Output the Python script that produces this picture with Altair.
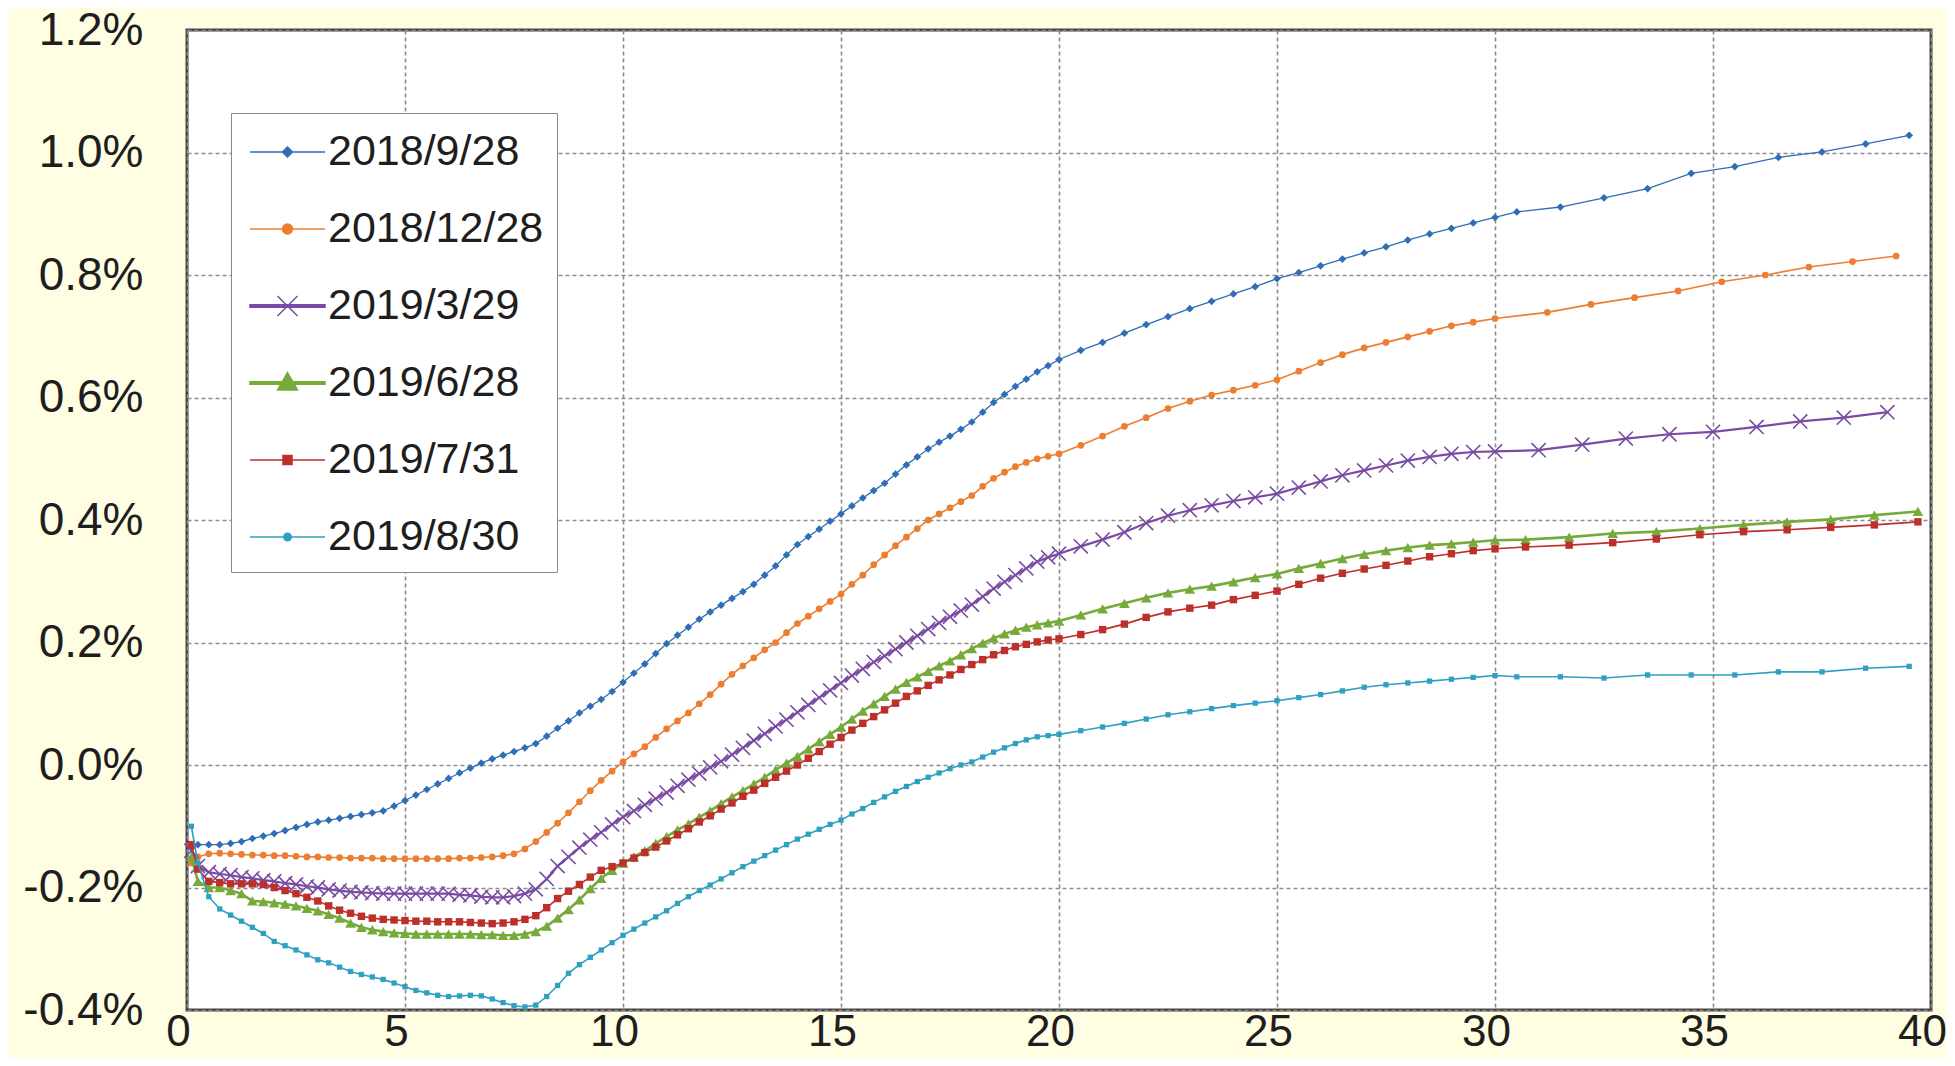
import altair as alt
import pandas as pd

SERIES = ["2018/9/28", "2018/12/28", "2019/3/29", "2019/6/28", "2019/7/31", "2019/8/30"]
COLORS = ["#2f6db5", "#ed7d31", "#7a4ba3", "#76ab3c", "#bd2f2a", "#2ea0c0"]

# maturities (years) shared by all series up to 30y
X_FRONT = [
    0.1, 0.25, 0.5, 0.75, 1.0, 1.25, 1.5, 1.75, 2.0, 2.25, 2.5, 2.75, 3.0, 3.25, 3.5, 3.75, 4.0, 4.25, 4.5, 4.75, 5.0,
    5.25, 5.5, 5.75, 6.0, 6.25, 6.5, 6.75, 7.0, 7.25, 7.5, 7.75, 8.0, 8.25, 8.5, 8.75, 9.0, 9.25, 9.5, 9.75, 10.0,
    10.25, 10.5, 10.75, 11.0, 11.25, 11.5, 11.75, 12.0, 12.25, 12.5, 12.75, 13.0, 13.25, 13.5, 13.75, 14.0, 14.25, 14.5, 14.75, 15.0,
    15.25, 15.5, 15.75, 16.0, 16.25, 16.5, 16.75, 17.0, 17.25, 17.5, 17.75, 18.0, 18.25, 18.5, 18.75, 19.0, 19.25, 19.5, 19.75, 20.0,
    20.5, 21.0, 21.5, 22.0, 22.5, 23.0, 23.5, 24.0, 24.5, 25.0, 25.5, 26.0, 26.5, 27.0, 27.5, 28.0, 28.5, 29.0, 29.5, 30.0,
]

# yields (%) for each series at X_FRONT
Y_0928 = [
    -0.135, -0.13, -0.13, -0.13, -0.128, -0.125, -0.12, -0.116, -0.112, -0.107, -0.102, -0.097, -0.093, -0.09, -0.087, -0.084, -0.081, -0.078, -0.075, -0.067, -0.058,
    -0.049, -0.04, -0.031, -0.022, -0.013, -0.005, 0.003, 0.01, 0.016, 0.022, 0.028, 0.035, 0.047, 0.06, 0.072, 0.085, 0.096, 0.107, 0.12, 0.135,
    0.15, 0.165, 0.182, 0.198, 0.212, 0.225, 0.238, 0.25, 0.261, 0.272, 0.283, 0.295, 0.31, 0.325, 0.343, 0.36, 0.373, 0.385, 0.398, 0.41,
    0.423, 0.436, 0.448, 0.46, 0.475, 0.49, 0.503, 0.516, 0.527, 0.537, 0.548, 0.56, 0.576, 0.592, 0.605, 0.618, 0.63, 0.642, 0.652, 0.662,
    0.677, 0.69, 0.705, 0.719, 0.732, 0.745, 0.757, 0.769, 0.781, 0.794, 0.804, 0.815, 0.826, 0.836, 0.846, 0.857, 0.867, 0.876, 0.885, 0.894,
]
Y_1228 = [
    -0.16, -0.15, -0.145, -0.144, -0.145, -0.146, -0.147, -0.147, -0.148, -0.148, -0.149, -0.15, -0.15, -0.151, -0.151, -0.152, -0.152, -0.152, -0.153, -0.153, -0.153,
    -0.153, -0.153, -0.153, -0.153, -0.152, -0.152, -0.151, -0.15, -0.148, -0.145, -0.137, -0.125, -0.11, -0.095, -0.078, -0.06, -0.042, -0.025, -0.01, 0.005,
    0.018, 0.03, 0.045, 0.059, 0.072, 0.085, 0.1, 0.115, 0.132, 0.148, 0.162, 0.175, 0.188, 0.2, 0.216, 0.231, 0.243, 0.255, 0.267, 0.279,
    0.295, 0.31, 0.327, 0.343, 0.358, 0.372, 0.386, 0.4, 0.41, 0.42, 0.43, 0.44, 0.455, 0.468, 0.478, 0.487, 0.494, 0.5, 0.504, 0.508,
    0.522, 0.537, 0.553, 0.567, 0.582, 0.594, 0.604, 0.612, 0.62, 0.629, 0.643, 0.657, 0.67, 0.681, 0.69, 0.699, 0.708, 0.717, 0.723, 0.729,
]
Y_0329 = [
    -0.14, -0.165, -0.175, -0.178, -0.18, -0.183, -0.185, -0.188, -0.19, -0.193, -0.195, -0.198, -0.2, -0.203, -0.205, -0.207, -0.208, -0.209, -0.21, -0.21, -0.21,
    -0.21, -0.21, -0.21, -0.21, -0.212, -0.213, -0.215, -0.216, -0.216, -0.214, -0.21, -0.203, -0.186, -0.165, -0.15, -0.135, -0.122, -0.11, -0.097, -0.085,
    -0.075, -0.065, -0.055, -0.045, -0.034, -0.024, -0.014, -0.004, 0.006, 0.017, 0.028, 0.04, 0.051, 0.063, 0.074, 0.086, 0.098, 0.11, 0.122, 0.134,
    0.146, 0.157, 0.168, 0.178, 0.189, 0.2, 0.211, 0.222, 0.232, 0.242, 0.252, 0.262, 0.275, 0.288, 0.299, 0.31, 0.321, 0.332, 0.339, 0.345,
    0.357, 0.368, 0.38, 0.395, 0.407, 0.416, 0.424, 0.431, 0.437, 0.443, 0.453, 0.463, 0.473, 0.481, 0.489, 0.497, 0.503, 0.508, 0.511, 0.512,
]
Y_0628 = [
    -0.15, -0.19, -0.2, -0.2, -0.205, -0.21, -0.222, -0.223, -0.225, -0.227, -0.23, -0.234, -0.238, -0.244, -0.25, -0.258, -0.265, -0.269, -0.272, -0.274, -0.275,
    -0.276, -0.276, -0.276, -0.276, -0.276, -0.276, -0.277, -0.277, -0.278, -0.278, -0.276, -0.272, -0.263, -0.25, -0.236, -0.22, -0.202, -0.185, -0.172, -0.16,
    -0.15, -0.14, -0.128, -0.117, -0.106, -0.096, -0.085, -0.075, -0.063, -0.052, -0.042, -0.031, -0.02, -0.008, 0.003, 0.014, 0.026, 0.038, 0.05, 0.062,
    0.075, 0.088, 0.1, 0.112, 0.124, 0.135, 0.144, 0.153, 0.162, 0.17, 0.18, 0.19, 0.199, 0.207, 0.214, 0.22, 0.225, 0.229, 0.232, 0.235,
    0.245, 0.255, 0.264, 0.273, 0.281, 0.287, 0.292, 0.299, 0.306, 0.312, 0.321, 0.329, 0.337, 0.344, 0.35, 0.355, 0.359, 0.361, 0.364, 0.367,
]
Y_0731 = [
    -0.13, -0.17, -0.19, -0.192, -0.194, -0.194, -0.194, -0.195, -0.2, -0.205, -0.21, -0.216, -0.222, -0.23, -0.237, -0.242, -0.247, -0.25, -0.252, -0.253, -0.254,
    -0.255, -0.255, -0.256, -0.256, -0.256, -0.257, -0.258, -0.259, -0.258, -0.256, -0.252, -0.246, -0.233, -0.218, -0.206, -0.195, -0.183, -0.172, -0.166, -0.16,
    -0.152, -0.143, -0.134, -0.124, -0.114, -0.104, -0.093, -0.083, -0.072, -0.062, -0.051, -0.041, -0.03, -0.02, -0.01, 0.0, 0.011, 0.022, 0.034, 0.045,
    0.057, 0.068, 0.079, 0.09, 0.101, 0.112, 0.121, 0.13, 0.139, 0.147, 0.156, 0.164, 0.172, 0.18, 0.187, 0.193, 0.197, 0.201, 0.204, 0.206,
    0.213, 0.221, 0.23, 0.241, 0.25, 0.256, 0.261, 0.27, 0.277, 0.284, 0.295, 0.305, 0.313, 0.32, 0.326, 0.333, 0.34, 0.345, 0.35, 0.353,
]
Y_0830 = [
    -0.1, -0.16, -0.215, -0.235, -0.245, -0.255, -0.265, -0.275, -0.288, -0.295, -0.302, -0.31, -0.318, -0.323, -0.33, -0.337, -0.342, -0.346, -0.35, -0.356, -0.362,
    -0.368, -0.372, -0.376, -0.378, -0.377, -0.376, -0.377, -0.382, -0.388, -0.393, -0.395, -0.392, -0.378, -0.36, -0.34, -0.326, -0.314, -0.302, -0.29, -0.278,
    -0.268, -0.258, -0.248, -0.238, -0.226, -0.215, -0.205, -0.196, -0.186, -0.176, -0.166, -0.157, -0.148, -0.139, -0.13, -0.121, -0.113, -0.105, -0.097, -0.09,
    -0.08, -0.071, -0.061, -0.052, -0.043, -0.035, -0.027, -0.02, -0.013, -0.006, 0.0, 0.005, 0.013, 0.021, 0.028, 0.035, 0.041, 0.046, 0.048, 0.05,
    0.056, 0.062, 0.068, 0.075, 0.082, 0.087, 0.092, 0.097, 0.101, 0.105, 0.11, 0.115, 0.121, 0.127, 0.131, 0.134, 0.137, 0.14, 0.143, 0.146,
]

# super-long end (30y - 40y), maturities and yields per series
X_TAIL_0928 = [30.5, 31.5, 32.5, 33.5, 34.5, 35.5, 36.5, 37.5, 38.5, 39.5]
Y_TAIL_0928 = [0.903, 0.911, 0.926, 0.941, 0.966, 0.977, 0.992, 1.001, 1.014, 1.028]
X_TAIL_1228 = [31.2, 32.2, 33.2, 34.2, 35.2, 36.2, 37.2, 38.2, 39.2]
Y_TAIL_1228 = [0.739, 0.752, 0.763, 0.774, 0.789, 0.8, 0.813, 0.822, 0.831]
X_TAIL_0329 = [31.0, 32.0, 33.0, 34.0, 35.0, 36.0, 37.0, 38.0, 39.0]
Y_TAIL_0329 = [0.514, 0.523, 0.533, 0.54, 0.544, 0.552, 0.561, 0.567, 0.576]
X_TAIL_0628 = [30.7, 31.7, 32.7, 33.7, 34.7, 35.7, 36.7, 37.7, 38.7, 39.7]
Y_TAIL_0628 = [0.368, 0.372, 0.378, 0.381, 0.386, 0.392, 0.397, 0.401, 0.408, 0.414]
X_TAIL_0731 = [30.7, 31.7, 32.7, 33.7, 34.7, 35.7, 36.7, 37.7, 38.7, 39.7]
Y_TAIL_0731 = [0.356, 0.359, 0.363, 0.369, 0.376, 0.381, 0.384, 0.388, 0.392, 0.397]
X_TAIL_0830 = [30.5, 31.5, 32.5, 33.5, 34.5, 35.5, 36.5, 37.5, 38.5, 39.5]
Y_TAIL_0830 = [0.144, 0.144, 0.142, 0.147, 0.147, 0.147, 0.152, 0.152, 0.158, 0.161]

X_TICKS = [0, 5, 10, 15, 20, 25, 30, 35, 40]
Y_TICKS = [-0.4, -0.2, 0.0, 0.2, 0.4, 0.6, 0.8, 1.0, 1.2]

FRONTS = [Y_0928, Y_1228, Y_0329, Y_0628, Y_0731, Y_0830]
TAILS_X = [X_TAIL_0928, X_TAIL_1228, X_TAIL_0329, X_TAIL_0628, X_TAIL_0731, X_TAIL_0830]
TAILS_Y = [Y_TAIL_0928, Y_TAIL_1228, Y_TAIL_0329, Y_TAIL_0628, Y_TAIL_0731, Y_TAIL_0830]

rows = []
for name, yf, tx, ty in zip(SERIES, FRONTS, TAILS_X, TAILS_Y):
    for x, y in zip(X_FRONT + tx, yf + ty):
        rows.append({"series": name, "maturity": x, "yield": y})
df = pd.DataFrame(rows)

FONT = "Liberation Sans"
TEXT = "#1e1e1e"
GRID = dict(grid=True, gridDash=[4, 3], gridColor="#8c8c8c", gridWidth=1.6, gridOpacity=1,
            ticks=False, tickSize=0, domain=False, title=None, labelFont=FONT,
            labelColor=TEXT, labelFlush=False, labelOverlap=False)

xenc = alt.X("maturity:Q", scale=alt.Scale(domain=[0, 40], nice=False, zero=False),
             axis=alt.Axis(values=X_TICKS, labelPadding=0, labelOffset=-9, labelFontSize=44, **GRID))
yenc = alt.Y("yield:Q", scale=alt.Scale(domain=[-0.4, 1.2], nice=False, zero=False),
             axis=alt.Axis(values=Y_TICKS, labelPadding=44, labelFontSize=46,
                           labelExpr="replace(format(datum.value, '.1f'), '\u2212', '-') + '%'", **GRID))

XPATH = "M-1,-1L1,1M-1,1L1,-1"
STYLE = [
    # line width, marker shape, filled, marker size, marker stroke width
    (1.3, "diamond", True, 60, 1),
    (1.6, "circle", True, 45, 1),
    (2.2, XPATH, False, 200, 1.6),
    (2.6, "triangle-up", True, 115, 1),
    (1.6, "square", True, 55, 1),
    (1.6, "square", True, 28, 1),
]

base = alt.Chart(df)
layers = []
for name, color, (lw, shp, filled, sz, sw) in zip(SERIES, COLORS, STYLE):
    sub = base.transform_filter(alt.datum.series == name)
    layers.append(sub.mark_line(color=color, strokeWidth=lw).encode(x=xenc, y=yenc))
    layers.append(sub.mark_point(shape=shp, filled=filled, size=sz, color=color,
                                 strokeWidth=sw, opacity=1).encode(x=xenc, y=yenc))

THICK = "M-0.8,-0.05L2.2,-0.05L2.2,0.05L-0.8,0.05Z"
THIN = "M-0.8,0L2.2,0"
LEGEND_PATHS = [
    THIN + "M0.7,-0.2L0.9,0L0.7,0.2L0.5,0Z",
    THIN + "M0.5,0A0.2,0.2,0,1,0,0.9,0A0.2,0.2,0,1,0,0.5,0Z",
    THICK + "M0.3,-0.4L1.1,0.4M0.3,0.4L1.1,-0.4",
    THICK + "M0.7,-0.42L1.1,0.28L0.3,0.28Z",
    THIN + "M0.52,-0.18L0.88,-0.18L0.88,0.18L0.52,0.18Z",
    THIN + "M0.55,0A0.15,0.15,0,1,0,0.85,0A0.15,0.15,0,1,0,0.55,0Z",
]

leg = alt.Legend(orient="none", legendX=44, legendY=83, title=None, symbolSize=2500,
                 symbolStrokeWidth=1.5, symbolOpacity=1, labelFontSize=43, labelFont=FONT,
                 labelColor=TEXT, labelOffset=32, rowPadding=29, padding=13,
                 strokeColor="#8a8a8a", fillColor="white", labelLimit=400)

legend_layer = base.mark_point(opacity=0).encode(
    x=xenc, y=yenc,
    fill=alt.Fill("series:N", scale=alt.Scale(domain=SERIES, range=COLORS), legend=leg),
    stroke=alt.Stroke("series:N", scale=alt.Scale(domain=SERIES, range=COLORS), legend=leg),
    shape=alt.Shape("series:N", scale=alt.Scale(domain=SERIES, range=LEGEND_PATHS), legend=leg),
)
layers.append(legend_layer)

chart = alt.layer(*layers).properties(
    width=1744,
    height=980,
    autosize=alt.AutoSizeParams(type="none"),
    padding={"left": 179, "top": 22, "right": 16, "bottom": 48},
    background="#fffde2",
    title=alt.TitleParams("JGB Yield Curves", fontSize=80, fontWeight="bold", color="#1a1a8a",
                          font=FONT, anchor="middle", frame="group", baseline="alphabetic",
                          offset=19, dx=13),
).configure_view(stroke="#454545", strokeWidth=3, fill="white")

chart.save("out.html", embed_options={"renderer": "svg", "actions": False})
